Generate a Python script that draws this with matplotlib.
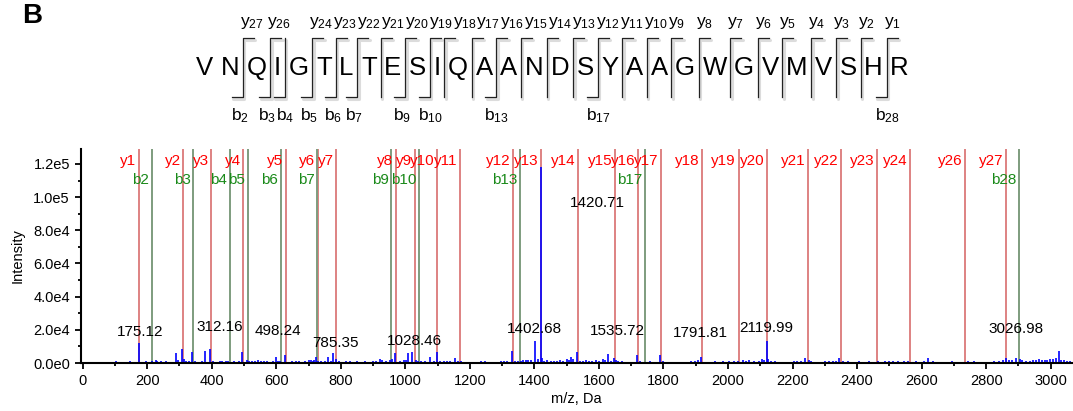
import math
import matplotlib
matplotlib.use('Agg')
import matplotlib.pyplot as plt
from matplotlib.ticker import MultipleLocator, FuncFormatter
from matplotlib.transforms import blended_transform_factory

plt.rcParams['font.family'] = ['Liberation Sans', 'DejaVu Sans']
plt.rcParams['mathtext.default'] = 'regular'

# peptide and matched fragments
sequence = 'VNQIGTLTESIQAANDSYAAGWGVMVSHR'
y_ions = [1, 2, 3, 4, 5, 6, 7, 8, 9, 10, 11, 12, 13, 14, 15, 16, 17, 18, 19, 20,
          21, 22, 23, 24, 26, 27]
y_mz = [175.12, 312.18, 399.21, 498.28, 629.32, 728.39, 785.41, 971.49, 1028.51,
        1099.55, 1170.58, 1333.65, 1420.68, 1535.71, 1649.75, 1720.79, 1791.82,
        1919.88, 2032.96, 2119.99, 2249.04, 2350.08, 2463.17, 2564.21, 2734.32,
        2862.38]
b_ions = [2, 3, 4, 5, 6, 7, 9, 10, 13, 17, 28]
b_mz = [214.12, 342.18, 455.26, 512.28, 613.33, 726.41, 956.51, 1043.54,
        1355.72, 1742.86, 2901.38]

# centroided spectrum (m/z, intensity)
peak_mz = [88, 97, 104, 112, 130, 141, 147, 158, 175.12, 186, 197,
           204, 215, 226, 231, 244, 250, 258, 271, 288, 297,
           307, 315, 320, 330, 338, 348, 362, 371, 379, 394.5,
           404, 417, 425, 433, 443, 452, 460, 470, 478, 486, 495,
           508, 516, 525, 535, 545, 553, 561, 572, 580, 590, 598, 604,
           612, 627, 640, 650, 660, 670, 678, 690, 700, 707, 713, 718, 723, 730,
           740, 752, 761, 770, 777, 785.35, 795, 805, 815, 828, 840, 851, 865, 875, 889,
           901, 910, 921, 929, 940, 952, 960, 968, 985, 995, 1003, 1009, 1021, 1032, 1040,
           1050, 1061, 1076, 1089, 1097, 1107, 1119, 1128, 1140, 1153, 1162, 1173, 1185,
           1210, 1236, 1246, 1296, 1305, 1314, 1331, 1340, 1348, 1357, 1366, 1373, 1381,
           1388, 1402.68, 1411, 1420.71, 1425, 1431, 1440, 1452, 1461, 1470, 1480, 1490,
           1500, 1507, 1515, 1521, 1531, 1542,
           1550, 1561, 1570, 1580, 1590, 1601, 1612, 1620, 1627, 1636, 1646, 1652, 1660,
           1672, 1689, 1717, 1726, 1736, 1757, 1775, 1789, 1798,
           1846, 1872, 1886, 1898, 1906, 1915, 1930, 1960, 1985, 2002, 2018, 2032, 2046,
           2055, 2066, 2081, 2095, 2104, 2111, 2119.99, 2125, 2133, 2145,
           2186, 2204, 2215, 2227, 2240, 2250, 2258, 2287, 2300, 2313, 2325, 2335, 2345,
           2357, 2371, 2390, 2405, 2422, 2438, 2451, 2465, 2487, 2500, 2512, 2528, 2545,
           2557, 2584, 2606, 2620, 2636, 2676, 2693, 2745, 2763, 2800, 2823, 2840, 2852,
           2863, 2872, 2880, 2893, 2905, 2912, 2922, 2935, 2945, 2955, 2964, 2972, 2981,
           2990, 2998, 3007, 3015, 3026.98, 3033, 3042, 3052, 3060]
peak_int = [800, 600, 1200, 900, 700, 900, 1000, 800, 12200, 800, 1100,
            900, 1200, 2000, 1000, 1500, 800, 1200, 700, 5800, 2000,
            8400, 2500, 1500, 1000, 6800, 1300, 900, 1400, 7400, 8400,
            1500, 900, 1200, 1400, 1000, 1200, 900, 1500, 800, 1000, 6400,
            1600, 1300, 1000, 1200, 1800, 1500, 1000, 1200, 900, 1300, 3800, 1500,
            1000, 5000, 900, 1100, 1000, 1300, 900, 1500, 1600, 1800, 1500, 1700, 3400, 1500,
            1000, 1200, 3800, 1200, 5800, 2500, 1100, 900, 1000, 1100, 900, 1000, 900, 1100, 900,
            1300, 1500, 2200, 1800, 1300, 1600, 2200, 5800, 1500, 1600, 2000, 5800, 6800, 2000, 1200,
            1300, 1000, 3800, 1200, 6800, 1300, 1000, 1300, 1100, 2800, 1300, 1000, 900,
            800, 1000, 1000, 1200, 1500, 1000, 7000, 1500, 1300, 1500, 2000, 1700, 1800,
            2000, 13500, 2500, 118400, 3000, 1500, 1600, 1400, 1200, 1300, 1600, 1500,
            2400, 2000, 3800, 2600, 6400, 1500,
            1200, 1600, 1300, 1500, 1700, 1400, 2300, 2000, 5600, 1500, 3000, 1800, 1000,
            1300, 900, 4600, 1200, 900, 1000, 900, 5000, 1200,
            800, 900, 1100, 1300, 1800, 3800, 900, 1000, 1200, 1000, 1300, 1500, 1600,
            1300, 1600, 1200, 1500, 2200, 1800, 13500, 2200, 1300, 1200,
            800, 1000, 1100, 1300, 3000, 1600, 1200, 900, 1000, 1100, 1000, 1300, 2800,
            1200, 1000, 900, 1000, 900, 1100, 900, 1000, 1400, 1100, 1300, 1200, 1300,
            1100, 1000, 1200, 3000, 1000, 900, 1000, 1000, 1300, 900, 1000, 1300, 1700,
            3000, 2000, 1800, 3000, 2600, 1900, 1500, 1300, 1800, 1800, 2200, 1600, 2000,
            1800, 2200, 2300, 3000, 7400, 2000, 1600, 1300, 1100]

peak_labels = ['175.12', '312.16', '498.24', '785.35', '1028.46', '1402.68',
               '1420.71', '1535.72', '1791.81', '2119.99', '3026.98']
# where each label sits (m/z, intensity)
label_pos = [(177, 18900), (424, 21700), (606, 19500), (783, 12200), (1027, 13400),
             (1401, 20300), (1594, 96500), (1658, 19500), (1914, 17900), (2117, 20900),
             (2892, 20500)]

W, H = 1073, 411
fig = plt.figure(figsize=(W / 100, H / 100), dpi=100)

# ---------------- spectrum ----------------
ax = fig.add_axes([81 / W, 48 / H, (1072 - 81) / W, 214 / H])
ax.set_xlim(-5, 3066)
ax.set_ylim(0, 1.29e5)

red_line = '#DE8282'
green_line = '#7E9C7E'
for mz in y_mz:
    ax.axvline(mz, color=red_line, lw=1.4, zorder=1)
for mz in b_mz:
    ax.axvline(mz, color=green_line, lw=1.4, zorder=1)

ax.vlines(peak_mz, 0, peak_int, color='#0000FF', lw=1.2, zorder=2)

tr = blended_transform_factory(ax.transData, ax.transAxes)
for n, mz in zip(y_ions, y_mz):
    ax.text(mz - 8, 0.944, 'y%d' % n, color='#FF0000', fontsize=11,
            ha='right', va='center', transform=tr, zorder=3)
for n, mz in zip(b_ions, b_mz):
    ax.text(mz - 8, 0.855, 'b%d' % n, color='#1A8A1A', fontsize=11,
            ha='right', va='center', transform=tr, zorder=3)

for lab, (x, y) in zip(peak_labels, label_pos):
    ax.text(x, y, lab, fontsize=11, ha='center', va='center', color='black', zorder=4)

for s in ['top', 'right']:
    ax.spines[s].set_visible(False)
for s in ['left', 'bottom']:
    ax.spines[s].set_linewidth(1.5)

ax.xaxis.set_major_locator(MultipleLocator(200))
ax.xaxis.set_minor_locator(MultipleLocator(100))
ax.yaxis.set_major_locator(MultipleLocator(20000))
ax.yaxis.set_minor_locator(MultipleLocator(10000))


def sci(v, pos):
    if v <= 0:
        return '0.0e0' if v == 0 else ''
    e = int(math.floor(math.log10(v)))
    return '%.1fe%d' % (v / 10 ** e, e)


ax.yaxis.set_major_formatter(FuncFormatter(sci))
ax.tick_params(axis='both', which='major', length=4, width=1.3, labelsize=10.5, pad=4)
ax.tick_params(axis='both', which='minor', length=2.2, width=1.3)
ax.set_xlabel('m/z, Da', fontsize=10.5, labelpad=3)
ax.set_ylabel('Intensity', fontsize=10.5, labelpad=6)

# ---------------- fragment map (pixel coordinates) ----------------
top = fig.add_axes([0, 0, 1, 1])
top.set_xlim(0, W)
top.set_ylim(H, 0)
top.axis('off')
top.patch.set_visible(False)

top.text(22, 23, 'B', fontsize=20, fontweight='bold', ha='left', va='baseline')

fig.canvas.draw()
rend = fig.canvas.get_renderer()

letters = [top.text(0, 75, c, fontsize=18.5, ha='left', va='baseline') for c in sequence]
widths = [t.get_window_extent(rend).width for t in letters]
x_left, x_right = 196, 909
gap = (x_right - x_left - sum(widths)) / (len(sequence) - 1)
lefts = []
x = x_left
for t, w in zip(letters, widths):
    t.set_x(x)
    lefts.append(x)
    x += w + gap

L = len(sequence)
site_x = {}
for i in range(1, L):
    site_x[i] = lefts[i - 1] + widths[i - 1] + gap / 2

y_top, y_bot, hook = 38, 97, 11
sites = sorted(set([L - n for n in y_ions] + b_ions))
for i in sites:
    sx = site_x[i]
    xs, ys = [sx, sx], [y_top, y_bot]
    if (L - i) in y_ions:
        xs, ys = [sx + hook] + xs, [y_top] + ys
    if i in b_ions:
        xs, ys = xs + [sx - hook], ys + [y_bot]
    top.plot([v + 1.5 for v in xs], [v + 2 for v in ys], color='#bbbbbb',
             lw=2.2, alpha=0.5, solid_capstyle='round')
    top.plot(xs, ys, color='#222222', lw=0.9)

# y labels packed left to right above, b labels below
prev = 0
for i in sorted(site_x):
    n = L - i
    if n in y_ions:
        t = top.text(0, 26, 'y$_{%d}$' % n, fontsize=12.5, ha='left', va='baseline')
        w = t.get_window_extent(rend).width
        xx = max(site_x[i] - 3, prev)
        t.set_x(xx)
        prev = xx + w
prev = 0
for i in sorted(site_x):
    if i in b_ions:
        t = top.text(0, 120, 'b$_{%d}$' % i, fontsize=12.5, ha='left', va='baseline')
        w = t.get_window_extent(rend).width
        xx = max(site_x[i] - hook - 1, prev)
        t.set_x(xx)
        prev = xx + w

fig.savefig('out.png', dpi=100)
